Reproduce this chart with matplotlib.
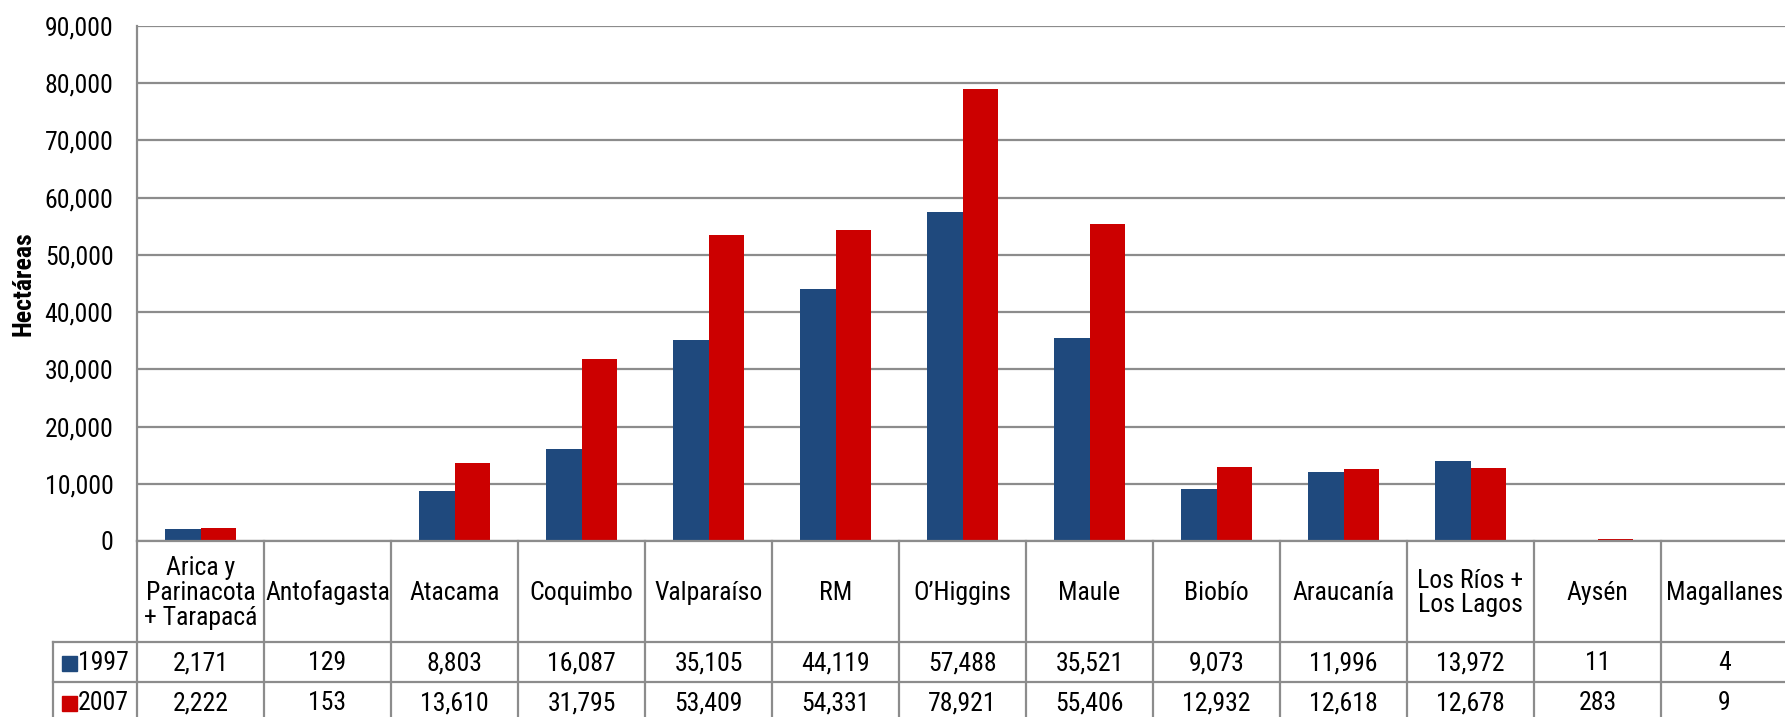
import matplotlib
matplotlib.use('Agg')
import matplotlib.pyplot as plt
import numpy as np

plt.rcParams['font.family'] = ['Roboto Condensed', 'Liberation Sans', 'DejaVu Sans']

regions = ['Arica y\nParinacota\n+ Tarapacá', 'Antofagasta', 'Atacama', 'Coquimbo',
           'Valparaíso', 'RM', 'O\u2019Higgins', 'Maule', 'Biobío', 'Araucanía',
           'Los Ríos +\nLos Lagos', 'Aysén', 'Magallanes']
ha_1997 = [2171, 129, 8803, 16087, 35105, 44119, 57488, 35521, 9073, 11996, 13972, 11, 4]
ha_2007 = [2222, 153, 13610, 31795, 53409, 54331, 78921, 55406, 12932, 12618, 12678, 283, 9]
years = ['1997', '2007']

blue = '#1F497D'
red = '#CC0000'
grid_c = '#8c8c8c'
fs = 18.5

W, H = 1785, 717
fig = plt.figure(figsize=(W / 100, H / 100), dpi=100)

# chart area in pixels
left, right, top, zero = 137, 1788, 26, 541
ax = fig.add_axes([left / W, (H - zero) / H, (right - left) / W, (zero - top) / H])

x = np.arange(len(regions))
bw = 0.283
ax.bar(x - bw / 2, ha_1997, bw, color=blue)
ax.bar(x + bw / 2, ha_2007, bw, color=red)

ax.set_xlim(-0.5, len(regions) - 0.5)
ax.set_ylim(0, 90000)
ax.set_yticks(np.arange(0, 90001, 10000))
ax.yaxis.set_major_formatter(matplotlib.ticker.FuncFormatter(lambda v, p: f'{int(v):,}'))
ax.tick_params(axis='y', length=0, pad=17, labelsize=fs)
ax.set_xticks([])
ax.grid(axis='y', color=grid_c, lw=1.6)
ax.set_axisbelow(True)
for s in ['top', 'right', 'bottom']:
    ax.spines[s].set_visible(False)
ax.spines['left'].set_color(grid_c)
ax.spines['left'].set_linewidth(1.6)
ax.set_ylabel('Hectáreas', fontsize=fs, fontweight='bold')
ax.yaxis.set_label_coords((35 - left) / (right - left), 0.5)

# data table below the chart
colw = (right - left) / len(regions)
tleft = 53
xl = -0.5 - (left - tleft) / colw
tab = fig.add_axes([tleft / W, (H - 722) / H, (right - tleft) / W, (722 - zero) / H])
tab.set_xlim(xl, len(regions) - 0.5)
tab.set_ylim(181, 0)
tab.axis('off')

lk = dict(color=grid_c, lw=1.6, clip_on=False)
tab.plot([-0.5, len(regions) - 0.5], [0, 0], **lk)
for yy in [101, 141, 181]:
    tab.plot([xl, len(regions) - 0.5], [yy, yy], **lk)
for i in range(len(regions) + 1):
    tab.plot([i - 0.5, i - 0.5], [0, 181], **lk)
tab.plot([xl, xl], [101, 181], **lk)

for i, r in enumerate(regions):
    tab.text(i, 52, r, ha='center', va='center', fontsize=fs, linespacing=1.05)
    tab.text(i, 122, f'{ha_1997[i]:,}', ha='center', va='center', fontsize=fs)
    tab.text(i, 162, f'{ha_2007[i]:,}', ha='center', va='center', fontsize=fs)

px = lambda p: xl + (p - tleft) / colw
for yy, lab, c in [(122, years[0], blue), (162, years[1], red)]:
    tab.add_patch(plt.Rectangle((px(62), yy - 7.5), 15 / colw, 15, color=c, clip_on=False))
    tab.text(px(129), yy, lab, ha='right', va='center', fontsize=fs)

fig.savefig('out.png', dpi=100)
